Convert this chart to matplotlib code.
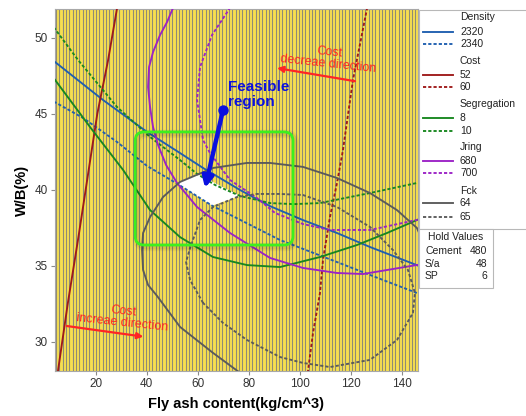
import numpy as np
import matplotlib
matplotlib.use("Agg")
import matplotlib.pyplot as plt
from matplotlib.patches import FancyBboxPatch, Polygon, Rectangle
from matplotlib.lines import Line2D
import matplotlib.transforms as mtransforms

plt.rcParams['font.family'] = ['Liberation Sans', 'DejaVu Sans']

# ---- contour curves of the responses (fly ash content, W/B) ----
density_2320_x = [3.5, 22.86, 40.12, 53.06, 62.08, 76.59, 88.35, 101.29, 114.63, 127.57, 146.5]
density_2320_y = [48.47, 45.90, 43.80, 42.41, 41.43, 39.98, 38.92, 38.00, 37.15, 36.23, 35.00]
density_2340_x = [3.5, 15.02, 28.35, 40.12, 51.88, 65.61, 92.27, 114.63, 127.57, 146.5]
density_2340_y = [45.80, 44.72, 43.14, 41.56, 40.40, 38.95, 36.69, 35.24, 34.39, 33.17]

cost_52_x = [28.4, 24.8, 20.6, 17.4, 13.3, 9.0, 5.10]
cost_52_y = [52.0, 48.5, 45.0, 41.5, 37.0, 32.5, 28.00]
cost_60_x = [126.5, 120.90, 116.98, 114.63, 111.88, 109.14, 107.96, 105.22, 103.2]
cost_60_y = [52.0, 47.22, 42.61, 40.44, 38.20, 35.37, 33.20, 30.57, 28.00]

segregation_8_x = [3.5, 17.76, 30.71, 41.29, 53.06, 66.00, 79.33, 92.27, 107.96, 122.47, 134.24, 146.5]
segregation_8_y = [47.34, 44.12, 41.30, 38.66, 36.88, 35.57, 35.04, 34.91, 35.57, 36.36, 37.15, 38.04]
segregation_10_x = [3.5, 13.06, 28.35, 41.29, 53.06, 59.73, 66.78, 76.59, 88.35, 97.6, 107.96, 127.57, 146.5]
segregation_10_y = [50.69, 48.53, 45.44, 43.47, 41.95, 41.04, 40.31, 39.59, 39.12, 39.05, 39.12, 39.78, 40.46]

jring_680_x = [50.4, 47.96, 45.22, 42.47, 40.90, 40.51, 41.29, 42.47, 44.43, 47.57, 51.88,
               59.73, 72.67, 88.35, 101.29, 114.63, 124.82, 146.5]
jring_680_y = [52.0, 51.03, 50.18, 49.06, 48.07, 46.76, 45.44, 44.12, 42.94, 41.63, 40.44,
               38.86, 37.15, 35.51, 34.85, 34.52, 34.45, 35.06]
jring_700_x = [72.8, 65.61, 60.90, 59.73, 62.08, 64.82, 72.67, 83.25, 90.31, 101.29, 111.88, 127.57, 146.5]
jring_700_y = [52.0, 50.18, 48.07, 45.90, 43.27, 42.41, 40.64, 39.45, 38.47, 37.74, 37.35, 37.35, 38.03]

fck_64_x = [77.0, 66.00, 53.06, 44.04, 40.51, 38.55, 38.16, 38.55, 41.29, 46.39, 53.06, 66.00,
            79.33, 88.35, 101.29, 114.63, 127.57, 138.16, 146.0, 147.0]
fck_64_y = [27.9, 29.26, 30.97, 33.01, 33.73, 34.72, 36.03, 37.15, 38.20, 39.52, 40.51, 41.43,
            41.76, 41.76, 41.50, 40.77, 39.78, 38.66, 37.48, 37.10]
fck_65_x = [62.08, 56.98, 55.41, 56.98, 60.90, 66.00, 75.41, 83.25, 92.27, 101.29, 114.63, 127.57,
            136.59, 142.47, 145.22, 144.43, 138.16, 127.57, 111.88, 101.29, 92.27, 79.33, 69.92, 62.08]
fck_65_y = [32.55, 34.06, 35.24, 36.16, 38.01, 38.86, 39.52, 39.72, 39.72, 39.65, 38.86, 37.55,
            36.03, 34.72, 33.20, 31.89, 30.11, 28.80, 28.33, 28.60, 28.99, 30.11, 31.23, 32.55]

# feasible region corners
feasible_x = [51.88, 59.73, 76.59, 65.61]
feasible_y = [40.42, 41.04, 39.59, 38.95]

x_ticks = [20, 40, 60, 80, 100, 120, 140]
y_ticks = [30, 35, 40, 45, 50]

legend_groups = [("Density", ["2320", "2340"]),
                 ("Cost", ["52", "60"]),
                 ("Segregation", ["8", "10"]),
                 ("Jring", ["680", "700"]),
                 ("Fck", ["64", "65"])]
hold_names = ["Cement", "S/a", "SP"]
hold_values = ["480", "48", "6"]

colors = {"Density": "#1f5fb0", "Cost": "#9e1a1a", "Segregation": "#17871f",
          "Jring": "#9b22c6", "Fck": "#5a5a5a"}
DOT = (0, (1.7, 1.1))

W, H = 526, 416
fig = plt.figure(figsize=(W / 100, H / 100), dpi=100)
fig.patch.set_facecolor("white")
ax = fig.add_axes([54.5 / W, 1 - 371 / H, (417.7 - 54.5) / W, (371 - 9) / H])
ax.set_xlim(3.8, 146.3)
ax.set_ylim(28.07, 51.89)
ax.set_facecolor("#f6df4f")

# vertical hatching of the infeasible area
ax.vlines(np.arange(4.4, 146.3, 1.305), 0, 1, transform=ax.get_xaxis_transform(),
          color="#8f8b74", lw=0.8, zorder=1)

ax.add_patch(Polygon(np.column_stack([feasible_x, feasible_y]), closed=True,
                     facecolor="white", edgecolor="none", zorder=2))

curves = [
    (density_2320_x, density_2320_y, "Density", "-"),
    (density_2340_x, density_2340_y, "Density", DOT),
    (cost_52_x, cost_52_y, "Cost", "-"),
    (cost_60_x, cost_60_y, "Cost", DOT),
    (segregation_8_x, segregation_8_y, "Segregation", "-"),
    (segregation_10_x, segregation_10_y, "Segregation", DOT),
    (jring_680_x, jring_680_y, "Jring", "-"),
    (jring_700_x, jring_700_y, "Jring", DOT),
    (fck_64_x, fck_64_y, "Fck", "-"),
    (fck_65_x, fck_65_y, "Fck", DOT),
]
for xs, ys, name, ls in curves:
    ax.plot(xs, ys, color=colors[name], ls=ls, lw=1.35, zorder=3, solid_capstyle="butt")

# highlighted window around the feasible region, with a soft shadow
box_x0, box_x1, box_y0, box_y1 = 35.45, 97.37, 36.36, 43.80
for lw, a in [(6, 0.05), (3.5, 0.08)]:
    off = mtransforms.offset_copy(ax.transData, fig=fig, x=2, y=-2, units="dots")
    ax.add_patch(FancyBboxPatch((box_x0, box_y0), box_x1 - box_x0, box_y1 - box_y0,
                                boxstyle="round,pad=0,rounding_size=3.5", mutation_aspect=0.168,
                                facecolor="none", edgecolor="black", lw=lw, alpha=a,
                                transform=off, zorder=4))
ax.add_patch(FancyBboxPatch((box_x0, box_y0), box_x1 - box_x0, box_y1 - box_y0,
                            boxstyle="round,pad=0,rounding_size=3.5", mutation_aspect=0.168,
                            facecolor="none", edgecolor="#3cf01e", lw=2.0, zorder=5))

# feasible region callout
blue = "#0a10e0"
ax.annotate("", xy=(62.86, 40.11), xytext=(69.92, 45.24),
            arrowprops=dict(arrowstyle="-|>", color=blue, lw=3.2, mutation_scale=16,
                            shrinkA=0, shrinkB=0), zorder=6)
ax.plot([69.92], [45.24], "o", color=blue, ms=6.5, zorder=6)
ax.text(72.0, 46.25, "Feasible\nregion", color=blue, fontsize=11, fontweight="bold",
        ha="left", va="center", linespacing=1.05, zorder=6)

# cost direction notes
red = "#ff2424"
ax.text(111.5, 48.66, "Cost\ndecreae direction", color=red, fontsize=9, ha="center",
        va="center", rotation=-6, rotation_mode="anchor", multialignment="center",
        linespacing=1.0, zorder=6)
ax.annotate("", xy=(91.1, 48.0), xytext=(121.7, 47.14),
            arrowprops=dict(arrowstyle="-|>", color=red, lw=1.6, mutation_scale=9,
                            shrinkA=0, shrinkB=0), zorder=6)
ax.text(30.7, 31.6, "Cost\nincreae direction", color=red, fontsize=9, ha="center",
        va="center", rotation=-6, rotation_mode="anchor", multialignment="center",
        linespacing=1.0, zorder=6)
ax.annotate("", xy=(38.67, 30.33), xytext=(8.63, 31.03),
            arrowprops=dict(arrowstyle="-|>", color=red, lw=1.6, mutation_scale=9,
                            shrinkA=0, shrinkB=0), zorder=6)

ax.set_xticks(x_ticks)
ax.set_yticks(y_ticks)
ax.tick_params(direction="out", length=3, width=0.8, color="#8a8a8a", labelsize=8.5,
               labelcolor="#333333", pad=2)
for s in ax.spines.values():
    s.set_color("#a8a8a8")
    s.set_linewidth(0.8)
ax.set_xlabel("Fly ash content(kg/cm^3)", fontsize=10.5, fontweight="bold", labelpad=5)
ax.set_ylabel("W/B(%)", fontsize=10.5, fontweight="bold", labelpad=4)


def fx(px):
    return px / W


def fy(py):
    return 1 - py / H


# legend panel
fig.add_artist(Rectangle((fx(419), fy(229)), fx(530) - fx(419), fy(10) - fy(229),
                         transform=fig.transFigure, facecolor="white", edgecolor="#b8b8b8", lw=0.8))
row_y = [17.3, 31.7, 44.3, 61, 75, 87.3, 104, 117.7, 131, 146.7, 161, 173.3, 190.7, 203.3, 217.3]
r = 0
for name, labels in legend_groups:
    fig.text(fx(460), fy(row_y[r]), name, fontsize=7.5, color="#222222", va="center", ha="left")
    r += 1
    for lab, ls in zip(labels, ["-", DOT]):
        fig.add_artist(Line2D([fx(423), fx(453)], [fy(row_y[r])] * 2, transform=fig.transFigure,
                              color=colors[name], ls=ls, lw=1.35))
        fig.text(fx(460), fy(row_y[r]), lab, fontsize=7.5, color="#222222", va="center", ha="left")
        r += 1

# hold values panel
fig.add_artist(Rectangle((fx(419), fy(288)), fx(493) - fx(419), fy(229) - fy(288),
                         transform=fig.transFigure, facecolor="white", edgecolor="#b8b8b8", lw=0.8))
fig.text(fx(456), fy(237.5), "Hold Values", fontsize=7.5, color="#222222", ha="center", va="center")
for i, (nm, val) in enumerate(zip(hold_names, hold_values)):
    yy = fy(251 + 12.7 * i)
    fig.text(fx(425), yy, nm, fontsize=7.5, color="#222222", ha="left", va="center")
    fig.text(fx(487), yy, val, fontsize=7.5, color="#222222", ha="right", va="center")

fig.savefig("out.png", dpi=100)
